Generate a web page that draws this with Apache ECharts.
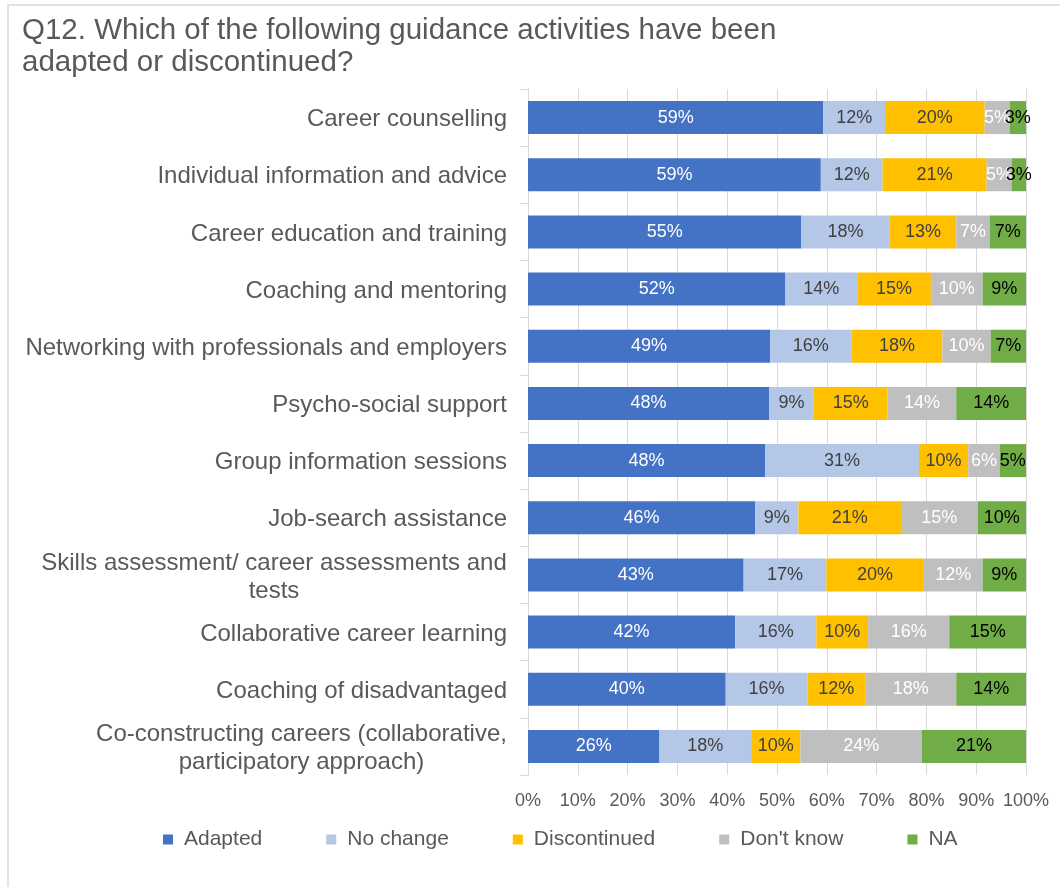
<!DOCTYPE html>
<html>
<head>
<meta charset="utf-8">
<script src="https://cdn.jsdelivr.net/npm/echarts@6/dist/echarts.min.js"></script>
<style>
  html, body { margin: 0; padding: 0; background: #ffffff; }
  #chart { width: 1060px; height: 887px; }
</style>
</head>
<body>
<div id="chart"></div>
<script>
const titleText = 'Q12. Which of the following guidance activities have been\nadapted or discontinued?';
const categories = [
  'Career counselling',
  'Individual information and advice',
  'Career education and training',
  'Coaching and mentoring',
  'Networking with professionals and employers',
  'Psycho-social support',
  'Group information sessions',
  'Job-search assistance',
  'Skills assessment/ career assessments and\ntests',
  'Collaborative career learning',
  'Coaching of disadvantaged',
  'Co-constructing careers (collaborative,\nparticipatory approach)'
];
const seriesNames = ['Adapted', 'No change', 'Discontinued', "Don't know", 'NA'];
const adapted      = [59.3, 58.8, 54.9, 51.7, 48.6, 48.4, 47.6, 45.6, 43.3, 41.6, 39.7, 26.4];
const noChange     = [12.4, 12.4, 17.7, 14.4, 16.4,  9.0, 30.9,  8.7, 16.6, 16.3, 16.4, 18.4];
const discontinued = [20.0, 20.9, 13.4, 14.8, 18.2, 14.8,  9.9, 20.6, 19.6, 10.4, 11.6,  9.9];
const dontKnow     = [ 5.0,  5.0,  6.7, 10.4,  9.7, 13.8,  6.3, 15.4, 11.8, 16.3, 18.3, 24.4];
const na           = [ 3.3,  2.9,  7.3,  8.7,  7.1, 14.0,  5.3,  9.7,  8.7, 15.4, 14.0, 20.9];
const xTicks = [0, 10, 20, 30, 40, 50, 60, 70, 80, 90, 100];

const FONT = '"Liberation Sans", Arial, sans-serif';
const seriesData = [adapted, noChange, discontinued, dontKnow, na];
const colors = ['#4472C4', '#B4C7E7', '#FFC000', '#BFBFBF', '#70AD47'];
const labelColors = ['#ffffff', '#404040', '#404040', '#ffffff', '#000000'];

// Multi-line category labels: centre lines within the block
const ctx = document.createElement('canvas').getContext('2d');
ctx.font = '24px "Liberation Sans", Arial, sans-serif';
const rich = {};
const labelMap = {};
categories.forEach((c, i) => {
  if (c.indexOf('\n') >= 0) {
    const lines = c.split('\n');
    const w = Math.ceil(Math.max(...lines.map(l => ctx.measureText(l).width)));
    const key = 'm' + i;
    rich[key] = { width: w, align: 'center', fontSize: 24, lineHeight: 28, color: '#595959', fontFamily: FONT };
    labelMap[c] = lines.map(l => '{' + key + '|' + l + '}').join('\n');
  }
});

const chart = echarts.init(document.getElementById('chart'), null, { renderer: 'canvas' });
chart.setOption({
  backgroundColor: '#ffffff',
  animation: false,
  textStyle: { fontFamily: FONT },
  graphic: [{
    type: 'rect',
    shape: { x: 8, y: 5, width: 1200, height: 1000 },
    style: { fill: 'none', stroke: '#d9d9d9', lineWidth: 1.5 },
    silent: true
  }],
  title: {
    text: titleText,
    left: 17,
    top: 10,
    textStyle: { fontFamily: FONT, fontSize: 29.5, fontWeight: 'normal', color: '#595959', lineHeight: 32 }
  },
  legend: {
    data: seriesNames,
    left: 158,
    top: 824,
    itemWidth: 10,
    itemHeight: 10,
    itemGap: 64,
    icon: 'rect',
    textStyle: { fontFamily: FONT, fontSize: 21, color: '#595959', padding: [0, 0, 0, 6] }
  },
  grid: { left: 528, right: 34, top: 89, bottom: 112, containLabel: false },
  xAxis: {
    type: 'value',
    min: 0,
    max: 100,
    interval: 10,
    axisLine: { show: false },
    axisTick: { show: false },
    splitLine: { show: true, lineStyle: { color: '#d9d9d9', width: 1 } },
    axisLabel: {
      margin: 17,
      fontFamily: FONT,
      fontSize: 18,
      color: '#595959',
      formatter: v => (xTicks.indexOf(v) >= 0 ? v + '%' : '')
    }
  },
  yAxis: {
    type: 'category',
    inverse: true,
    data: categories,
    axisLine: { show: true, lineStyle: { color: '#d9d9d9', width: 1 } },
    axisTick: { show: true, length: 8, lineStyle: { color: '#d9d9d9' } },
    axisLabel: {
      margin: 21,
      fontFamily: FONT,
      fontSize: 24,
      lineHeight: 28,
      padding: [4, 0, 0, 0],
      color: '#595959',
      formatter: v => labelMap[v] || v,
      rich: rich
    }
  },
  series: seriesNames.map((name, i) => ({
    name: name,
    type: 'bar',
    stack: 'total',
    barWidth: 33,
    data: seriesData[i],
    itemStyle: { color: colors[i] },
    label: {
      show: true,
      position: 'inside',
      fontFamily: FONT,
      fontSize: 18,
      color: labelColors[i],
      formatter: p => Math.round(p.value) + '%'
    }
  }))
});
</script>
</body>
</html>
